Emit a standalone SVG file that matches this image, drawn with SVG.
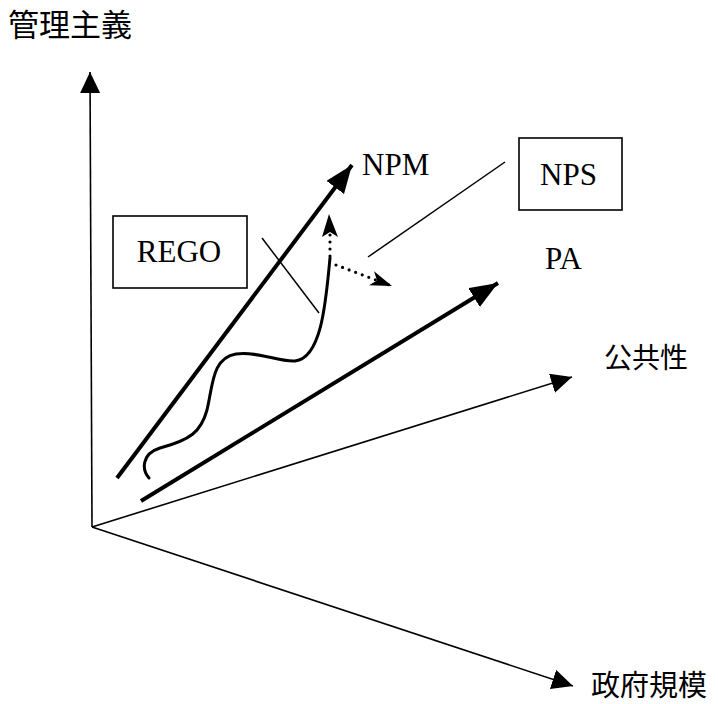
<svg xmlns="http://www.w3.org/2000/svg" width="718" height="704" viewBox="0 0 718 704">
<style>
.axis{stroke:#000;stroke-width:1.6;fill:none}
.thick{stroke:#000;stroke-width:4;fill:none}
.thin{stroke:#000;stroke-width:1.5;fill:none}
.curve{stroke:#000;stroke-width:3;fill:none;stroke-linecap:round}
.dot{stroke:#000;stroke-width:3.2;fill:none;stroke-linecap:round;stroke-dasharray:0 7}
.box{fill:#fff;stroke:#000;stroke-width:1.6}
.lat{font-family:"Liberation Serif","Times New Roman",serif;font-size:31px;fill:#000}
.cjk{font-family:"Noto Sans CJK JP","Noto Sans CJK SC",sans-serif;font-size:31px;fill:#000}
</style>
<defs>
<marker id="ah" markerUnits="userSpaceOnUse" markerWidth="22" markerHeight="20" refX="21" refY="10" orient="auto">
<path d="M0,0 L21,10 L0,20 z" fill="#000"/>
</marker>
<marker id="ahb" markerUnits="userSpaceOnUse" markerWidth="30" markerHeight="24" refX="28" refY="11" orient="auto">
<path d="M0,0 L28,11 L0,22 z" fill="#000"/>
</marker>
<marker id="st" markerUnits="userSpaceOnUse" markerWidth="24" markerHeight="16" refX="22" refY="7.5" orient="auto">
<path d="M0,0 L22,7.5 L0,15 L6,7.5 z" fill="#000"/>
</marker>
</defs>

<g id="connectors">
<line class="axis" x1="92" y1="527" x2="90" y2="72" marker-end="url(#ah)"/>
<line class="axis" x1="92" y1="527" x2="572" y2="377" marker-end="url(#ah)"/>
<line class="axis" x1="92" y1="527" x2="573" y2="686" marker-end="url(#ah)"/>
<line class="thick" x1="117" y1="478" x2="352" y2="165" marker-end="url(#ahb)"/>
<line class="thick" x1="141" y1="501" x2="498" y2="283" marker-end="url(#ahb)"/>
<path class="curve" d="M149,478 C142,470 141,454 160,448 C190,440 201,432 207,410 C213,385 212,358 236,354 C258,351 278,362 295,361 C322,358 326,300 330,258"/>
<path class="dot" d="M330,256 L330,226"/>
<path d="M329,214 L338,237 L330,232 L322,237 z" fill="#000"/>
<line class="dot" x1="336" y1="265" x2="392" y2="286" marker-end="url(#st)"/>
<line class="thin" x1="262" y1="238" x2="319" y2="313"/>
<line class="thin" x1="505" y1="162" x2="368" y2="257"/>
</g>

<g id="rego">
<rect class="box" x="113" y="216" width="134" height="72"/>
<text class="lat" x="179" y="262" text-anchor="middle">REGO</text>
</g>
<g id="nps">
<rect class="box" x="519" y="138" width="103" height="72"/>
<text class="lat" x="540" y="185">NPS</text>
</g>
<g id="npm">
<text class="lat" x="362" y="175">NPM</text>
</g>
<g id="pa">
<text class="lat" x="545" y="269">PA</text>
</g>
<g id="kanri">
<text class="cjk" x="8" y="36">管理主義</text>
</g>
<g id="kokyo">
<text class="cjk" x="604" y="368" style="font-size:28px">公共性</text>
</g>
<g id="seifu">
<text class="cjk" x="591" y="696" style="font-size:29px">政府規模</text>
</g>
</svg>
